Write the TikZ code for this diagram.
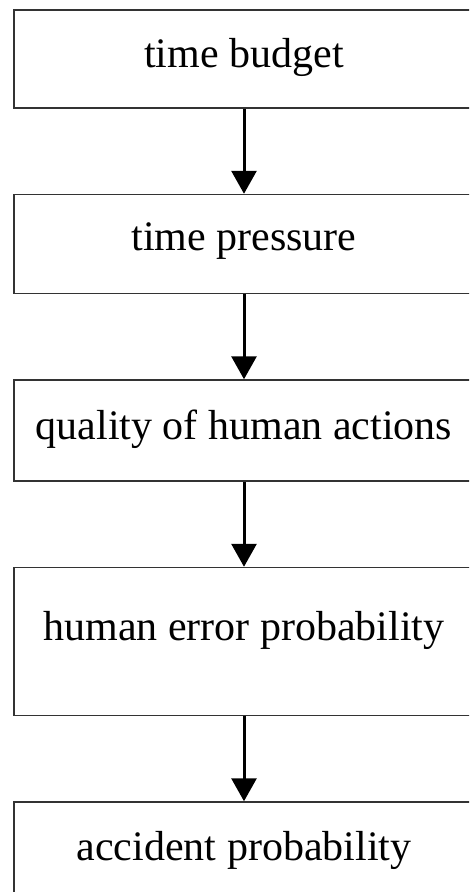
\documentclass[tikz,border=0pt]{standalone}
\usepackage{fontspec}
\setmainfont{Liberation Serif}
\usetikzlibrary{arrows.meta,positioning}
\definecolor{boxline}{HTML}{333333}

\begin{document}
\begin{tikzpicture}[x=1pt, y=1pt, node distance=85pt,
    stage/.style={draw=boxline, line width=1.5pt, inner sep=0pt, minimum width=460pt, font=\fontsize{42}{50}\selectfont},
    flow/.style={-{Triangle[width=25pt,length=23pt]}, line width=3pt}]
  \useasboundingbox (0,0) rectangle (469,-892);
  \clip (0,0) rectangle (469,-892);
  \node[stage, text height=57pt, text depth=41pt] (budget) at (244,-59) {time budget};
  \node[stage, text height=56pt, text depth=43pt, below=of budget] (pressure) {time pressure};
  \node[stage, text height=59pt, text depth=42pt, below=of pressure] (quality) {quality of human actions};
  \node[stage, text height=73pt, text depth=75pt, below=of quality] (hep) {human error probability};
  \node[stage, text height=58pt, text depth=42pt, below=of hep] (accident) {accident probability};
  \draw[flow] (budget) -- (pressure);
  \draw[flow] (pressure) -- (quality);
  \draw[flow] (quality) -- (hep);
  \draw[flow] (hep) -- (accident);
\end{tikzpicture}
\end{document}
